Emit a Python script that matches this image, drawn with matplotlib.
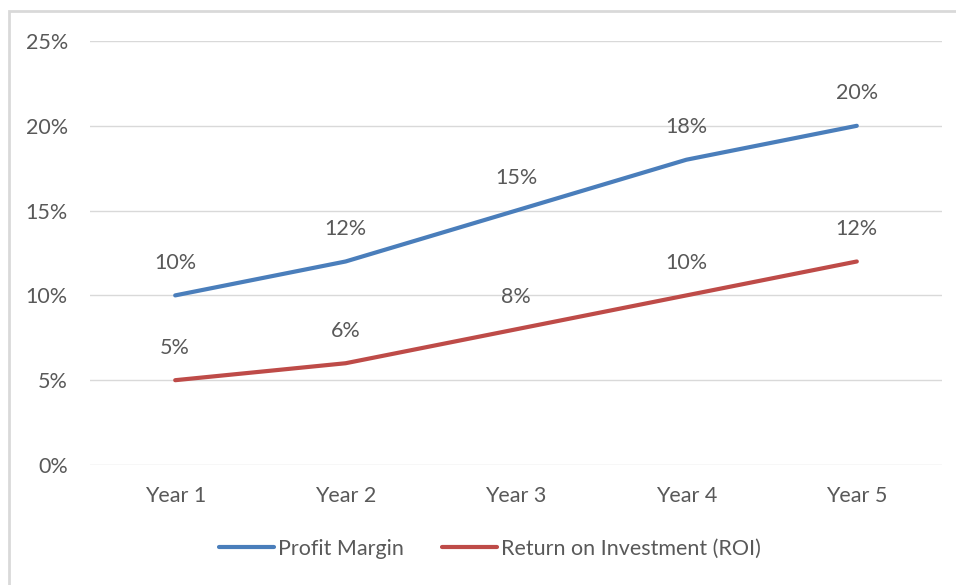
import matplotlib
matplotlib.use("Agg")
import matplotlib.pyplot as plt
from matplotlib.patches import Rectangle

categories = ["Year 1", "Year 2", "Year 3", "Year 4", "Year 5"]
profit_margin = [10, 12, 15, 18, 20]
roi = [5, 6, 8, 10, 12]
series_names = ["Profit Margin", "Return on Investment (ROI)"]
yticks = [0, 5, 10, 15, 20, 25]

plt.rcParams['font.family'] = ['Lato', 'DejaVu Sans']
TXT = '#595959'
BLUE = '#4A7EBB'
RED = '#BE4B48'
FS = 15.5

fig = plt.figure(figsize=(9.56, 5.85), dpi=100)
ax = fig.add_axes([90/956, 1-465/585, (942-90)/956, (465-41)/585])

x = list(range(len(categories)))
ax.plot(x, profit_margin, color=BLUE, lw=3.0, solid_capstyle='round', label=series_names[0], zorder=3)
ax.plot(x, roi, color=RED, lw=3.0, solid_capstyle='round', label=series_names[1], zorder=3)

for xi, v in zip(x, profit_margin):
    ax.annotate(f"{v}%", (xi, v), xytext=(0, 23.5), textcoords='offset points',
                ha='center', va='center', fontsize=FS, color=TXT)
for xi, v in zip(x, roi):
    ax.annotate(f"{v}%", (xi, v), xytext=(0, 23.5), textcoords='offset points',
                ha='center', va='center', fontsize=FS, color=TXT)

ax.set_xlim(-0.5, len(categories) - 0.5)
ax.set_ylim(0, 25)
ax.set_yticks(yticks)
ax.set_yticklabels([f"{t}%" for t in yticks], fontsize=FS, color=TXT)
ax.set_xticks(x)
ax.set_xticklabels(categories, fontsize=FS, color=TXT)
ax.tick_params(length=0)
ax.tick_params(axis='y', pad=16)
ax.tick_params(axis='x', pad=15)
ax.grid(axis='y', color='#D9D9D9', lw=1)
ax.set_axisbelow(True)
for s in ax.spines.values():
    s.set_visible(False)

leg = fig.legend(loc='center', bbox_to_anchor=(490/956, 1-549/585), ncol=2, frameon=False,
                 fontsize=FS, handlelength=2.55, handletextpad=0.2, columnspacing=1.75)
for t in leg.get_texts():
    t.set_color(TXT)

# outer chart frame
fig.patches.append(Rectangle((9/956, -0.1), 1.2, 1 - 11/585 + 0.1, transform=fig.transFigure,
                             fill=False, edgecolor='#D9D9D9', lw=2))

fig.savefig("out.png", dpi=100)
